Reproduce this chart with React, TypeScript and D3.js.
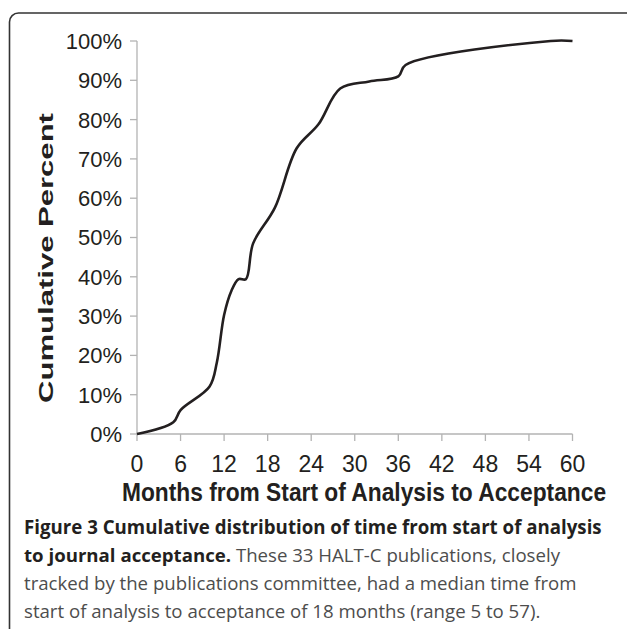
import React, { useMemo } from 'react';
import * as d3 from 'd3';

// months since start of analysis, cumulative percent of publications accepted
const months = [0, 5, 6, 10, 11, 12, 13, 14, 15, 16, 19, 22, 25, 28, 32, 36, 37, 57, 60];
const cumPct = [0, 3.0, 6.1, 12.1, 18.2, 30.3, 36.4, 39.4, 39.4, 48.5, 57.6, 72.7, 78.8, 87.9, 89.7, 91.0, 93.9, 100, 100];

const xTicks = [0, 6, 12, 18, 24, 30, 36, 42, 48, 54, 60];
const yTicks = [0, 10, 20, 30, 40, 50, 60, 70, 80, 90, 100];

const xTitle = 'Months from Start of Analysis to Acceptance';
const yTitle = 'Cumulative Percent';

const captionBold1 = 'Figure 3 Cumulative distribution of time from start of analysis';
const captionBold2 = 'to journal acceptance.';
const captionRest2 = ' These 33 HALT-C publications, closely';
const captionLine3 = 'tracked by the publications committee, had a median time from';
const captionLine4 = 'start of analysis to acceptance of 18 months (range 5 to 57).';

const axisFont = '"Liberation Sans", Arial, sans-serif';
const capFont = '"Open Sans", "Noto Sans", sans-serif';

function measure(txt: string, weight: string, size: number, family: string) {
  const ctx = document.createElement('canvas').getContext('2d');
  if (!ctx) return 0;
  ctx.font = `${weight} ${size}px ${family}`;
  return ctx.measureText(txt).width;
}

export default function App() {
  const W = 627, H = 629;
  const x = d3.scaleLinear().domain([0, 60]).range([137, 572.5]);
  const y = d3.scaleLinear().domain([0, 100]).range([434, 41]);

  const pts: [number, number][] = months.map((m, i) => [m, cumPct[i]]);
  const line = d3.line<[number, number]>()
    .x(d => x(d[0]))
    .y(d => y(d[1]))
    .curve(d3.curveCatmullRom.alpha(0.5));

  const sizes = useMemo(() => {
    const r = measure(captionLine3, 'normal', 20, capFont);
    const b = measure(captionBold1, 'bold', 20, capFont);
    const xt = measure(xTitle, 'bold', 25, axisFont);
    const yt = measure(yTitle, 'bold', 21, axisFont);
    return {
      reg: r ? (20 * 553) / r : 18,
      bold: b ? (20 * 578) / b : 18,
      xsx: xt ? 486 / xt : 0.87,
      ysx: yt ? 290 / yt : 1.3,
    };
  }, []);

  return (
    <svg width={W} height={H} style={{ position: 'absolute', left: 0, top: 0, background: '#fff' }}>
      {/* figure frame */}
      <rect x={9.5} y={13} width={700} height={700} rx={9} fill="none" stroke="#333" strokeWidth={1.6} />

      {/* axes */}
      <line x1={x(0)} x2={x(0)} y1={y(100)} y2={y(0)} stroke="#b3b3b3" strokeWidth={1.3} />
      <line x1={x(0)} x2={x(60)} y1={y(0)} y2={y(0)} stroke="#b3b3b3" strokeWidth={1.3} />
      {yTicks.map(t => (
        <g key={'y' + t}>
          <line x1={x(0) - 7} x2={x(0)} y1={y(t)} y2={y(t)} stroke="#b3b3b3" strokeWidth={1.3} />
          <text x={122} y={y(t)} dy="0.36em" textAnchor="end" fontFamily={axisFont} fontSize={22} fill="#231f20">
            {t + '%'}
          </text>
        </g>
      ))}
      {xTicks.map(t => (
        <g key={'x' + t}>
          <line x1={x(t)} x2={x(t)} y1={y(0)} y2={y(0) + 7} stroke="#b3b3b3" strokeWidth={1.3} />
          <text x={x(t)} y={472} textAnchor="middle" fontFamily={axisFont} fontSize={23} fill="#231f20">
            {t}
          </text>
        </g>
      ))}

      {/* axis titles */}
      <text transform={`translate(364,501) scale(${sizes.xsx},1)`} textAnchor="middle" fontFamily={axisFont}
        fontSize={25} fontWeight="bold" fill="#231f20">{xTitle}</text>
      <text transform={`translate(53,258) rotate(-90) scale(${sizes.ysx},1)`} textAnchor="middle" fontFamily={axisFont}
        fontSize={21} fontWeight="bold" fill="#231f20">{yTitle}</text>

      {/* curve */}
      <path d={line(pts) || ''} fill="none" stroke="#231f20" strokeWidth={2.6} strokeLinejoin="round" />

      {/* caption */}
      <g fontFamily={capFont}>
        <text x={24} y={534} fontSize={sizes.bold} fontWeight="bold" fill="#231f20">{captionBold1}</text>
        <text x={24} y={562} fontSize={sizes.reg} fill="#4d4d4d">
          <tspan fontWeight="bold" fill="#231f20">{captionBold2}</tspan>
          <tspan>{captionRest2}</tspan>
        </text>
        <text x={24} y={590} fontSize={sizes.reg} fill="#4d4d4d">{captionLine3}</text>
        <text x={24} y={618} fontSize={sizes.reg} fill="#4d4d4d">{captionLine4}</text>
      </g>
    </svg>
  );
}
